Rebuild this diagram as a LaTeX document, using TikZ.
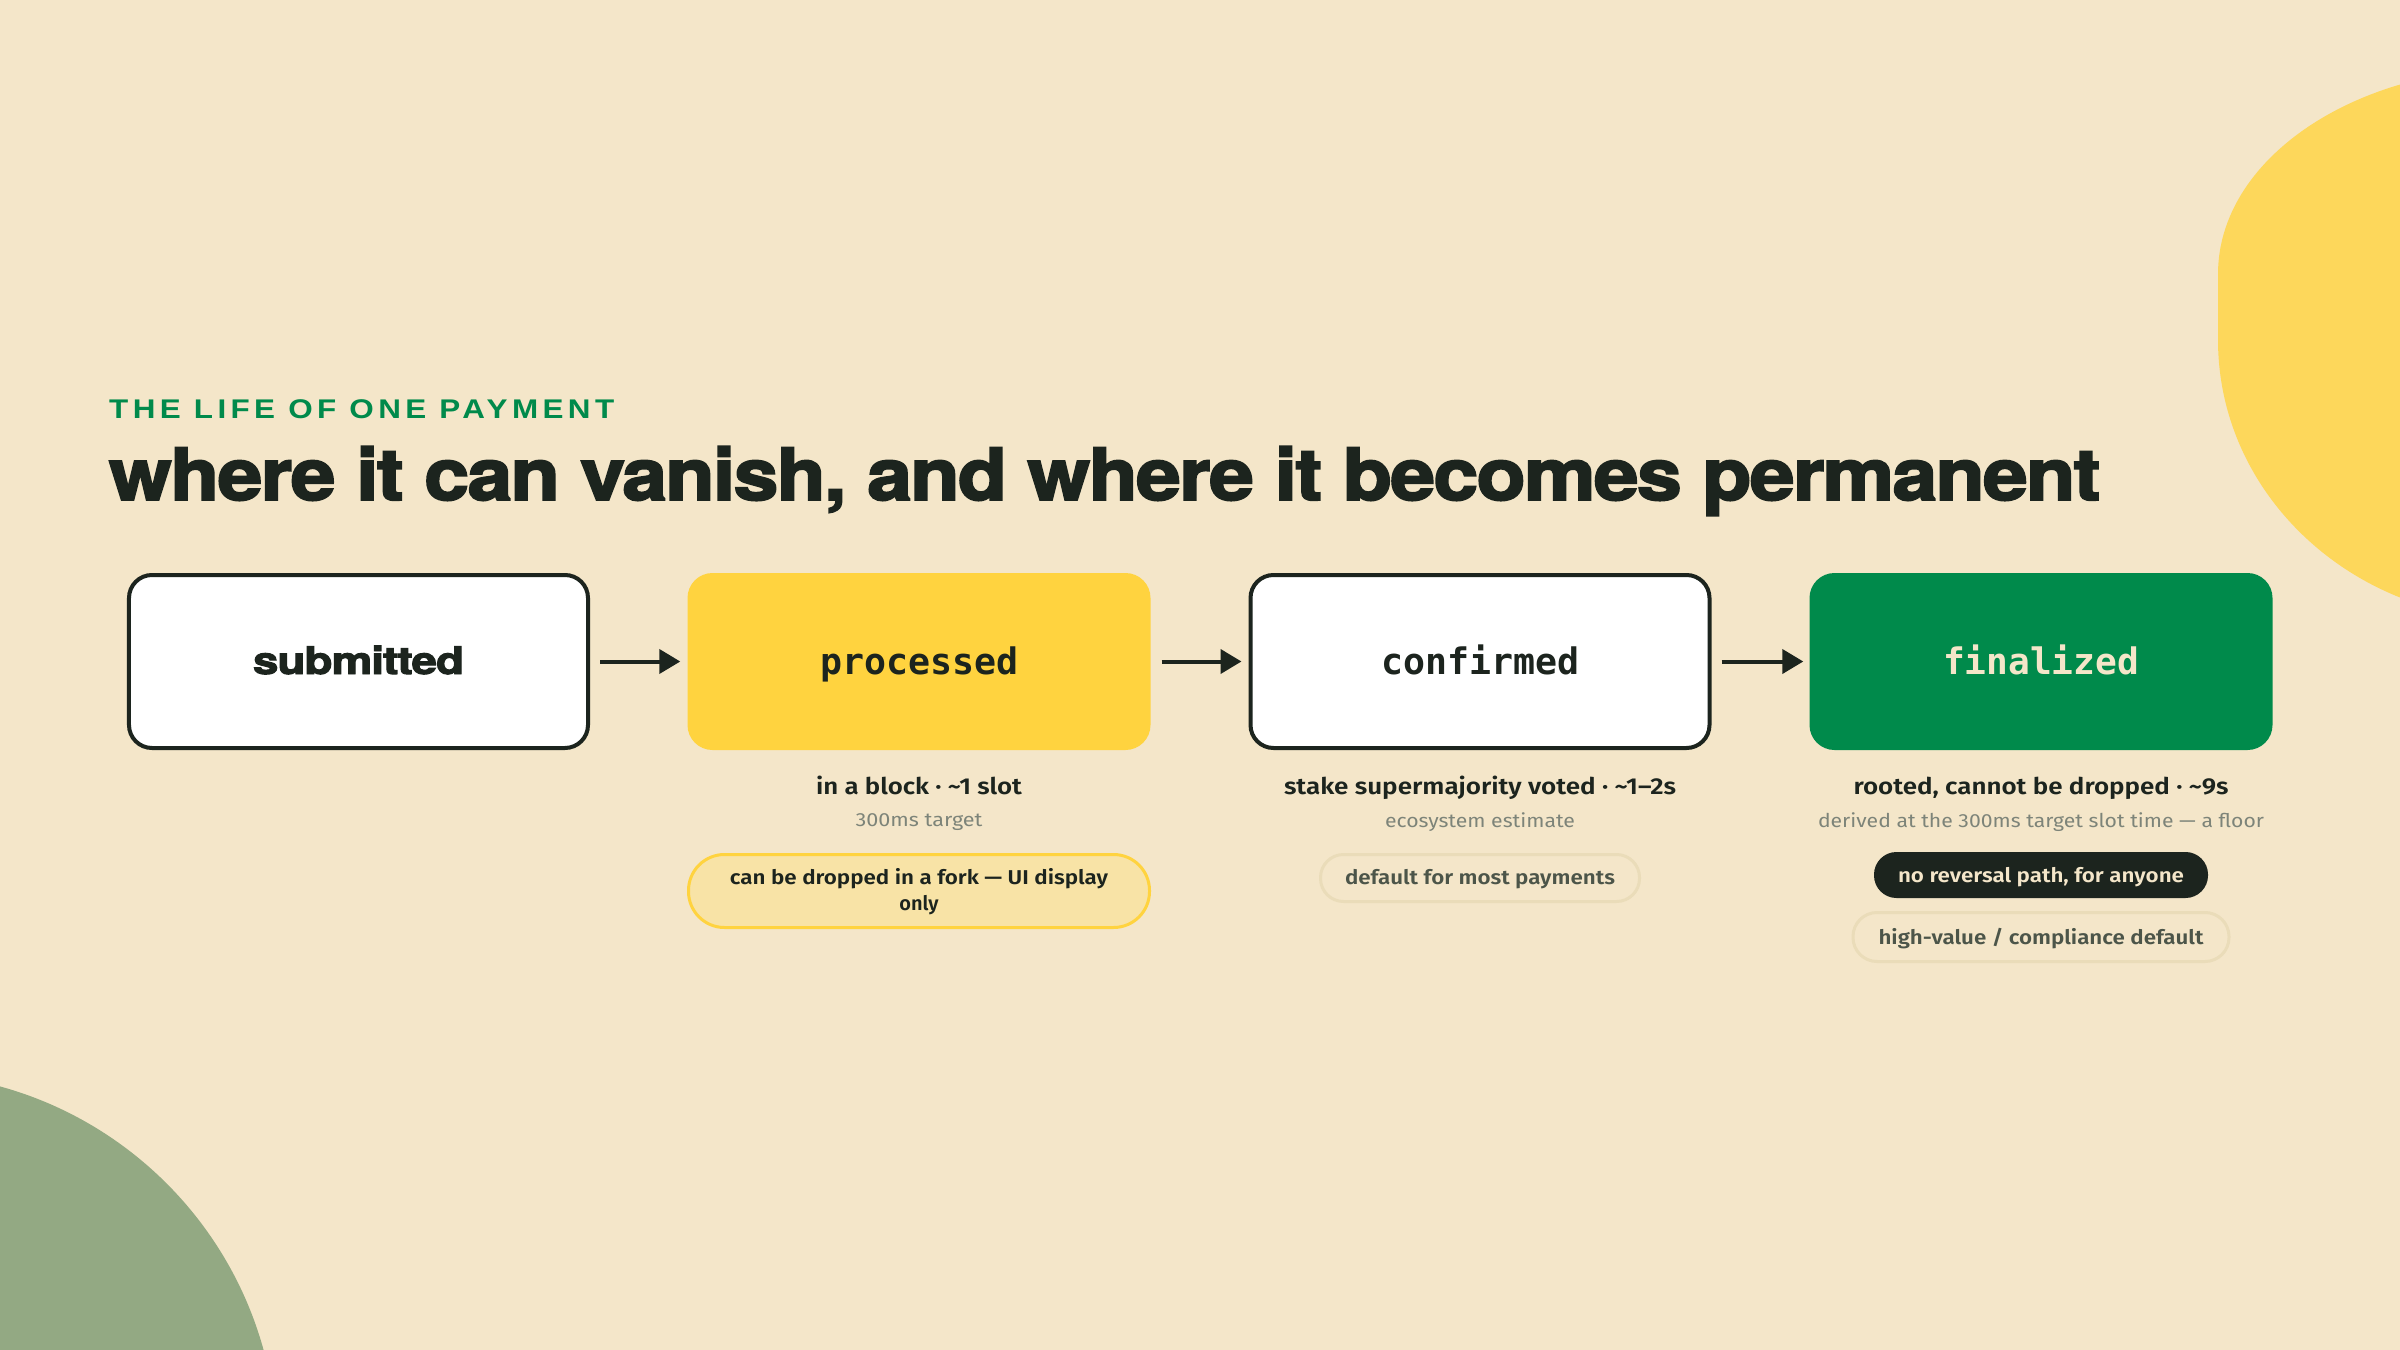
\documentclass[tikz,border=0pt]{standalone}
\usepackage{fontspec}
\usepackage{graphicx}
\usetikzlibrary{arrows.meta}
\setmainfont{Fira Sans}
\IfFontExistsTF{Fira Sans SemiBold}{\newfontfamily\semif{Fira Sans SemiBold}}{\newfontfamily\semif{Fira Sans}[UprightFont=*, BoldFont=*]}
\newfontfamily\eyef{Liberation Sans}[LetterSpace=14]
\newfontfamily\heavyf{TeX Gyre Heros}[FakeBold=2.5, LetterSpace=-2]
\newfontfamily\monof{DejaVu Sans Mono}
\newcommand\fitw[2]{\resizebox{#1bp}{\height}{#2}}
\newcommand\tld{{\char126}}
\definecolor{bgc}{HTML}{F4E6C9}
\definecolor{ink}{HTML}{1C241E}
\definecolor{ylw}{HTML}{FFD33F}
\definecolor{blobylw}{HTML}{FDD75B}
\definecolor{grn}{HTML}{008A4B}
\definecolor{blobgrn}{HTML}{93A983}
\definecolor{muted}{HTML}{7D8479}
\definecolor{pilltext}{HTML}{4C5549}
\definecolor{pillline}{HTML}{EADCB9}
\definecolor{ylwpill}{HTML}{F8E3A6}
\begin{document}
\begin{tikzpicture}[x=1bp,y=-1bp,
  txt/.style={inner sep=0pt, anchor=base},
  stagebox/.style={rounded corners=25bp, inner sep=0pt, text height=30bp, text depth=5bp},
  boxw/.style={stagebox, draw=ink, line width=4bp, fill=white, minimum width=459bp, minimum height=173bp, rounded corners=23bp},
  boxfill/.style={stagebox, minimum width=463bp, minimum height=177bp},
  flowarrow/.style={draw=ink, line width=4bp, -{Triangle[length=21bp,width=24bp]}},
  headfont/.style={font=\semif\fontsize{23bp}{28bp}\selectfont, text=ink},
  subfont/.style={font=\fontsize{19bp}{24bp}\selectfont, text=muted},
  pillfont/.style={font=\semif\fontsize{20bp}{26bp}\selectfont},
  pillbox/.style={inner sep=0pt, line width=3bp}
]
\useasboundingbox (0,0) rectangle (2400,1350);
\clip (0,0) rectangle (2400,1350);
\fill[bgc] (0,0) rectangle (2400,1350);
% decorative shapes
\fill[blobylw] (2518,68) arc[start angle=90, end angle=180, x radius=300bp, y radius=206bp]
  -- (2218,340) arc[start angle=180, end angle=270, x radius=300bp, y radius=280bp]
  -- (2600,620) -- (2600,68) -- cycle;
\fill[blobgrn] (-100,1450) circle[radius=377bp];
% headings
\node[txt, anchor=base west, font=\eyef\bfseries\fontsize{27bp}{30bp}\selectfont, text=grn] (eyebrow) at (109,418)
  {\fitw{505}{THE LIFE OF ONE PAYMENT}};
\node[txt, anchor=base west, font=\heavyf\bfseries\fontsize{72bp}{80bp}\selectfont, text=ink] (title) at (109,500)
  {\fitw{1991}{where it can vanish, and where it becomes permanent}};
% stages
\node[boxw, font=\heavyf\bfseries\fontsize{38bp}{40bp}\selectfont, text=ink] (b1) at (358.5,661.5) {\fitw{211}{submitted}};
\node[boxfill, fill=ylw, font=\monof\bfseries\fontsize{36.5bp}{40bp}\selectfont, text=ink] (b2) at (919,661.5) {\fitw{198}{processed}};
\node[boxw, font=\monof\bfseries\fontsize{36.5bp}{40bp}\selectfont, text=ink] (b3) at (1480,661.5) {\fitw{198}{confirmed}};
\node[boxfill, fill=grn, font=\monof\bfseries\fontsize{36.5bp}{40bp}\selectfont, text=bgc] (b4) at (2041,661.5) {\fitw{196}{finalized}};
\draw[flowarrow] ([xshift=10bp]b1.east) -- ([xshift=-7bp]b2.west);
\draw[flowarrow] ([xshift=11bp]b2.east) -- ([xshift=-7bp]b3.west);
\draw[flowarrow] ([xshift=10bp]b3.east) -- ([xshift=-6bp]b4.west);
% processed details
\node[txt, headfont] (t2a) at (919,794) {\fitw{206}{in a block · \tld1 slot}};
\node[txt, subfont] (t2b) at (919,826) {\fitw{127}{300ms target}};
\node[pillbox, fill=ylwpill, draw=ylw, minimum width=461bp, minimum height=73bp, rounded corners=36bp] (p2) at (919,891) {};
\node[txt, pillfont, text=ink] (p2a) at (919,884) {\fitw{378}{can be dropped in a fork — UI display}};
\node[txt, pillfont, text=ink] (p2b) at (919,910) {only};
% confirmed details
\node[txt, headfont] (t3a) at (1480,794) {\fitw{392}{stake supermajority voted · \tld1–2s}};
\node[txt, subfont] (t3b) at (1480,827) {\fitw{190}{ecosystem estimate}};
\node[pillbox, pillfont, fill=bgc, draw=pillline, text=pilltext, minimum width=319bp, minimum height=47bp, rounded corners=23bp, text height=16bp, text depth=4bp] (p3) at (1480,878) {\fitw{270}{default for most payments}};
% finalized details
\node[txt, headfont] (t4a) at (2041,794) {\fitw{375}{rooted, cannot be dropped · \tld9s}};
\node[txt, subfont] (t4b) at (2041,827) {\fitw{446}{derived at the 300ms target slot time — a floor}};
\node[pillbox, pillfont, fill=ink, draw=ink, text=bgc, minimum width=331bp, minimum height=43bp, rounded corners=21bp, text height=17bp, text depth=3bp] (p4) at (2041,875) {\fitw{286}{no reversal path, for anyone}};
\node[pillbox, pillfont, fill=bgc, draw=pillline, text=pilltext, minimum width=376bp, minimum height=49bp, rounded corners=24bp, text height=17bp, text depth=3bp] (p5) at (2041,937) {\fitw{325}{high-value / compliance default}};
\end{tikzpicture}
\end{document}
